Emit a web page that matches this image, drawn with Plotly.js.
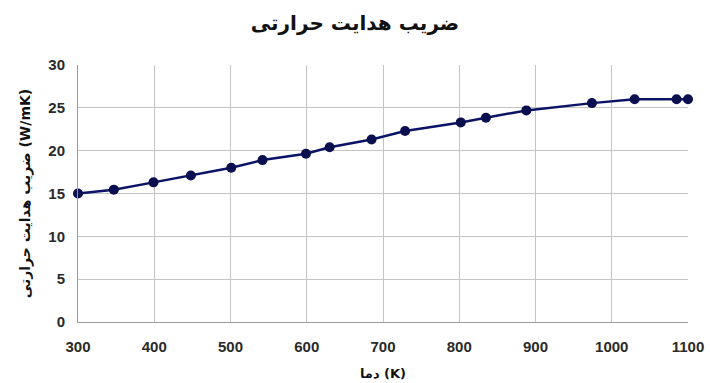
<!DOCTYPE html>
<html>
<head>
<meta charset="utf-8">
<script src="https://cdn.plot.ly/plotly-3.0.1.min.js"></script>
<style>html,body{margin:0;padding:0;background:#fff;}#chart{width:710px;height:383px;}</style>
</head>
<body>
<div id="chart"></div>
<script>
const temperatureK = [300, 347, 399, 448, 501, 542, 599, 630, 685, 729, 802, 835, 888, 974, 1030, 1085, 1100];
const conductivity = [15.0, 15.45, 16.3, 17.1, 18.0, 18.9, 19.65, 20.4, 21.3, 22.3, 23.3, 23.85, 24.7, 25.55, 26.0, 26.0, 26.0];
const xTicks = [300, 400, 500, 600, 700, 800, 900, 1000, 1100];
const yTicks = [0, 5, 10, 15, 20, 25, 30];
const chartTitle = "ضریب هدایت حرارتی";
const xTitle = "دما (K)";
const yTitle = "ضریب هدایت حرارتی (W/mK)";

const fontFam = "DejaVu Sans, Liberation Sans, sans-serif";
const tickFam = "Liberation Sans, Arial, sans-serif";
const data = [{
  x: temperatureK, y: conductivity, type: "scatter", mode: "lines+markers",
  line: {color: "#0a1466", width: 2.5},
  marker: {color: "#0a0f50", size: 10},
  showlegend: false, cliponaxis: false
}];
const layout = {
  width: 710, height: 383,
  margin: {l: 78, r: 22, t: 65, b: 61},
  paper_bgcolor: "#fff", plot_bgcolor: "#fff",
  title: {text: "<b>" + chartTitle + "</b>", x: 0.5, xanchor: "center", y: 0.94, yanchor: "middle",
          font: {family: fontFam, size: 20, color: "#111"}},
  xaxis: {range: [300, 1100], tickvals: xTicks, ticktext: xTicks.map(String),
          showgrid: true, gridcolor: "#c4c4c4", gridwidth: 1,
          showline: true, linecolor: "#9a9a9a", zeroline: false, mirror: false,
          ticks: "", ticklabelstandoff: 11,
          tickfont: {family: tickFam, size: 15, color: "#2a2a2a", weight: "bold"},
          title: {text: "<b>" + xTitle + "</b>", standoff: 14, font: {family: fontFam, size: 13, color: "#111"}}},
  yaxis: {range: [0, 30], tickvals: yTicks, ticktext: yTicks.map(String),
          showgrid: true, gridcolor: "#c4c4c4", gridwidth: 1,
          showline: true, linecolor: "#9a9a9a", zeroline: false,
          ticks: "", ticklabelstandoff: 9,
          tickfont: {family: tickFam, size: 15, color: "#2a2a2a", weight: "bold"},
          title: {text: "<b>" + yTitle + "</b>", standoff: 14, font: {family: fontFam, size: 14, color: "#111"}}}
};
Plotly.newPlot("chart", data, layout, {staticPlot: true, displayModeBar: false});
</script>
</body>
</html>
